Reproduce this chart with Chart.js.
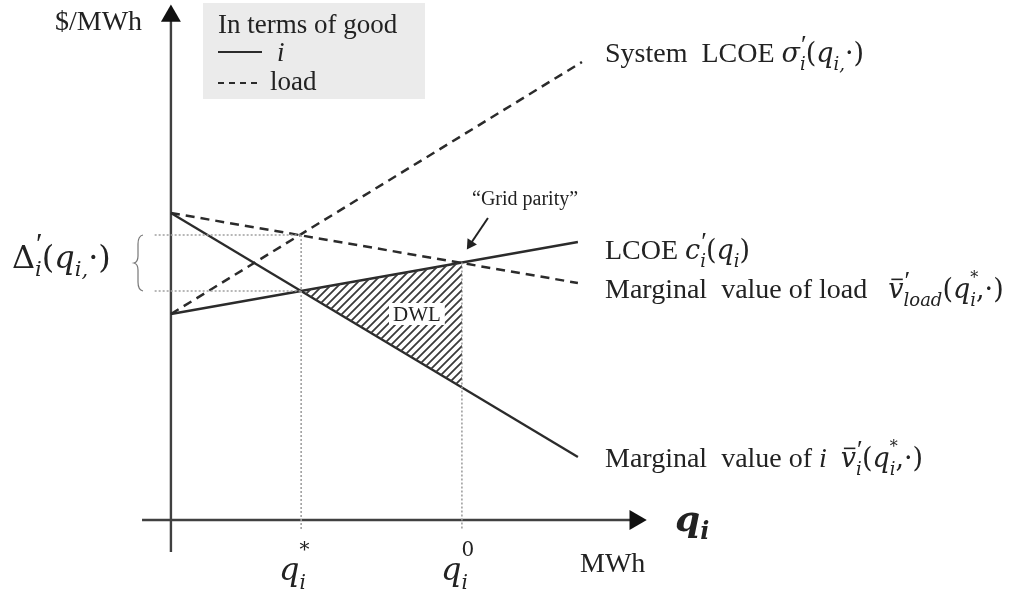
<!DOCTYPE html>
<html>
<head>
<meta charset="utf-8">
<script src="https://cdn.jsdelivr.net/npm/chart.js@4"></script>
<style>
  body { margin: 0; background: #fff; }
  #wrap { width: 1028px; height: 604px; }
</style>
</head>
<body>
<div id="wrap"><canvas id="myChart"></canvas></div>
<script>
// values (abstract units)
const qStar = 3.2;
const qZero = 7.15;
const lineX = [0, 10];
const lcoe = [10.3, 13.9];
const mvI = [15.35, 3.15];
const mvLoad = [15.35, 11.85];
const sysX = [0, 10.1];
const sysLcoe = [10.3, 22.9];
const dwlTop = [11.45, 12.87];
const dwlBottom = [11.45, 6.64];
const loadAtStar = 14.25;
const guideLeft = -0.4;
const guideBottom = -0.5;
const xAxisX = [-0.71, 11.41];
const yAxisY = [-1.6, 25.2];
const arrowX = [7.79, 7.36];
const arrowY = [15.1, 13.8];

const ink = '#2b2b2b';

function pts(xs, ys){
  return xs.map((x,i)=>({x:x, y:ys[i]}));
}

// hatch for the DWL area
const hc = document.createElement('canvas');
hc.width = 8; hc.height = 8;
const hx = hc.getContext('2d');
hx.strokeStyle = '#3a3a3a';
hx.lineWidth = 1.8;
hx.beginPath();
hx.moveTo(-1, 9); hx.lineTo(9, -1);
hx.moveTo(-5, 5); hx.lineTo(5, -5);
hx.moveTo(3, 13); hx.lineTo(13, 3);
hx.stroke();
const hatch = hx.createPattern(hc, 'repeat');

const MATH = '"DejaVu Serif"';

// draws a row of text pieces (for the math labels)
function rich(ctx, x, y, runs, base){
  let cx = x;
  runs.forEach(r=>{
    const size = r.s || base;
    ctx.font = (r.f || '') + ' ' + size + 'px ' + (r.fam || '"Liberation Serif"');
    const w = ctx.measureText(r.t).width;
    ctx.fillText(r.t, cx + (r.dx || 0), y + (r.dy || 0));
    if (r.bar) {
      ctx.fillRect(cx + w*0.2, y - size*0.72, w*0.75, 1.6);
    }
    if (!r.stay) cx += w;
  });
}

function m(t, extra){
  return Object.assign({t:t, f:'italic', s:27, fam:MATH}, extra || {});
}
function up(t, extra){
  return Object.assign({t:t, s:27, fam:MATH}, extra || {});
}

const labels = {
  id: 'labels',
  beforeDatasetsDraw(chart){
    const ctx = chart.ctx;
    ctx.save();
    ctx.fillStyle = '#ebebeb';
    ctx.fillRect(203, 3, 222, 96);
    ctx.restore();
  },
  afterDatasetsDraw(chart){
    const ctx = chart.ctx;
    ctx.save();
    ctx.fillStyle = '#222';
    ctx.textBaseline = 'alphabetic';
    const serif = '"Liberation Serif"';

    ctx.font = '28px ' + serif;
    ctx.fillText('$/MWh', 55, 30);
    ctx.fillText('MWh', 580, 572);

    // legend box
    ctx.font = '27px ' + serif;
    ctx.fillText('In terms of good', 218, 33);
    ctx.fillText('load', 270, 90);
    ctx.font = 'italic 27px ' + serif;
    ctx.fillText('i', 277, 61);
    ctx.strokeStyle = ink;
    ctx.lineWidth = 2;
    ctx.beginPath(); ctx.moveTo(218, 52); ctx.lineTo(262, 52); ctx.stroke();
    ctx.setLineDash([6, 5]);
    ctx.beginPath(); ctx.moveTo(218, 83); ctx.lineTo(262, 83); ctx.stroke();
    ctx.setLineDash([]);

    const sub = {s:18, dy:8};
    const prime = {t:'\u2032', s:26, dx:1, dy:-9, stay:true, fam:serif};
    const star = up('*', {s:16, dy:-15, stay:true});

    rich(ctx, 605, 62, [
      {t:'System  LCOE '},
      m('σ'), prime, m('i', sub),
      up('('), m('q'), m('i,', sub), up('·)')
    ], 28);

    rich(ctx, 605, 259, [
      {t:'LCOE '},
      m('c'), prime, m('i', sub),
      up('('), m('q'), m('i', sub), up(')')
    ], 28);

    rich(ctx, 605, 298, [
      {t:'Marginal  value of load   '},
      m('v', {bar:true}), prime, m('load', sub),
      up('('), m('q'), star, m('i', sub), up(',·)')
    ], 28);

    rich(ctx, 605, 467, [
      {t:'Marginal  value of '}, {t:'i', f:'italic'}, {t:'  '},
      m('v', {bar:true}), prime, m('i', sub),
      up('('), m('q'), star, m('i', sub), up(',·)')
    ], 28);

    rich(ctx, 12, 268, [
      up('Δ', {s:32}), {t:'\u2032', s:30, dx:1, dy:-15, stay:true, fam:serif}, m('i', {s:21, dy:8}),
      up('(', {s:32}), m('q', {s:32}), m('i,', {s:21, dy:8}), up('·)', {s:32})
    ], 32);

    ctx.font = '20px ' + serif;
    ctx.fillText('\u201CGrid parity\u201D', 472, 205);

    // DWL label on a white patch
    ctx.font = '21px ' + serif;
    const dw = ctx.measureText('DWL').width;
    ctx.fillStyle = '#fff';
    ctx.fillRect(389, 303, dw + 8, 22);
    ctx.fillStyle = '#222';
    ctx.fillText('DWL', 393, 321);

    // axis labels
    rich(ctx, 675, 531, [
      m('q', {f:'bold italic', s:36}), m('i', {f:'bold italic', s:24, dy:8})
    ], 36);
    rich(ctx, 279, 580, [
      m('q', {s:32}), up('*', {s:20, dy:-24, stay:true}), m('i', {s:20, dy:9})
    ], 32);
    rich(ctx, 441, 580, [
      m('q', {s:32}), up('0', {s:20, dy:-24, stay:true}), m('i', {s:20, dy:9})
    ], 32);

    // brace for the gap
    ctx.strokeStyle = '#777';
    ctx.lineWidth = 1.2;
    ctx.beginPath();
    ctx.moveTo(143, 235);
    ctx.quadraticCurveTo(138, 236, 138, 244);
    ctx.lineTo(138, 256);
    ctx.quadraticCurveTo(138, 262, 134, 263);
    ctx.quadraticCurveTo(138, 264, 138, 270);
    ctx.lineTo(138, 282);
    ctx.quadraticCurveTo(138, 290, 143, 291);
    ctx.stroke();
    ctx.restore();
  }
};

const dotted = {borderColor:'#a0a0a0', borderWidth:1.6, borderDash:[2,2], pointRadius:0, showLine:true, fill:false};

const ctx = document.getElementById('myChart').getContext('2d');
const myChart = new Chart(ctx, {
  type: 'scatter',
  data: {
    datasets: [
      {data: pts([qStar, qZero], dwlTop), showLine:true, borderWidth:0, pointRadius:0, fill:false},
      {data: pts([qStar, qZero], dwlBottom), showLine:true, borderWidth:0, pointRadius:0, fill:'-1', backgroundColor: hatch},
      Object.assign({data: pts([guideLeft, qStar], [loadAtStar, loadAtStar])}, dotted),
      Object.assign({data: pts([guideLeft, qStar], [dwlTop[0], dwlTop[0]])}, dotted),
      Object.assign({data: pts([qStar, qStar], [loadAtStar, guideBottom])}, dotted),
      Object.assign({data: pts([qZero, qZero], [dwlTop[1], guideBottom])}, dotted),
      {label:'LCOE', data: pts(lineX, lcoe), showLine:true, borderColor:ink, borderWidth:2.3, pointRadius:0},
      {label:'Marginal value of i', data: pts(lineX, mvI), showLine:true, borderColor:ink, borderWidth:2.3, pointRadius:0},
      {label:'Marginal value of load', data: pts(lineX, mvLoad), showLine:true, borderColor:ink, borderWidth:2.5, borderDash:[9,6], pointRadius:0},
      {label:'System LCOE', data: pts(sysX, sysLcoe), showLine:true, borderColor:ink, borderWidth:2.5, borderDash:[9,6], pointRadius:0},
      {data: pts([0, 0], yAxisY), showLine:true, borderColor:'#404040', borderWidth:2.4, pointRadius:[0, 11.5], pointStyle:'triangle', pointRotation:0, pointBackgroundColor:'#111', pointBorderWidth:0},
      {data: pts(xAxisX, [0, 0]), showLine:true, borderColor:'#404040', borderWidth:2.4, pointRadius:[0, 11.5], pointStyle:'triangle', pointRotation:90, pointBackgroundColor:'#111', pointBorderWidth:0},
      {data: pts(arrowX, arrowY), showLine:true, borderColor:'#222', borderWidth:2, pointRadius:[0, 6.5], pointStyle:'triangle', pointRotation:213.7, pointBackgroundColor:'#222', pointBorderWidth:0}
    ]
  },
  options: {
    responsive: true,
    maintainAspectRatio: false,
    animation: false,
    events: [],
    layout: { padding: 0, autoPadding: false },
    plugins: { legend: {display:false}, tooltip: {enabled:false} },
    scales: {
      x: { type:'linear', min:-4.2, max:21.06, display:false },
      y: { type:'linear', min:-4.2, max:26, display:false }
    }
  },
  plugins: [labels]
});
</script>
</body>
</html>
